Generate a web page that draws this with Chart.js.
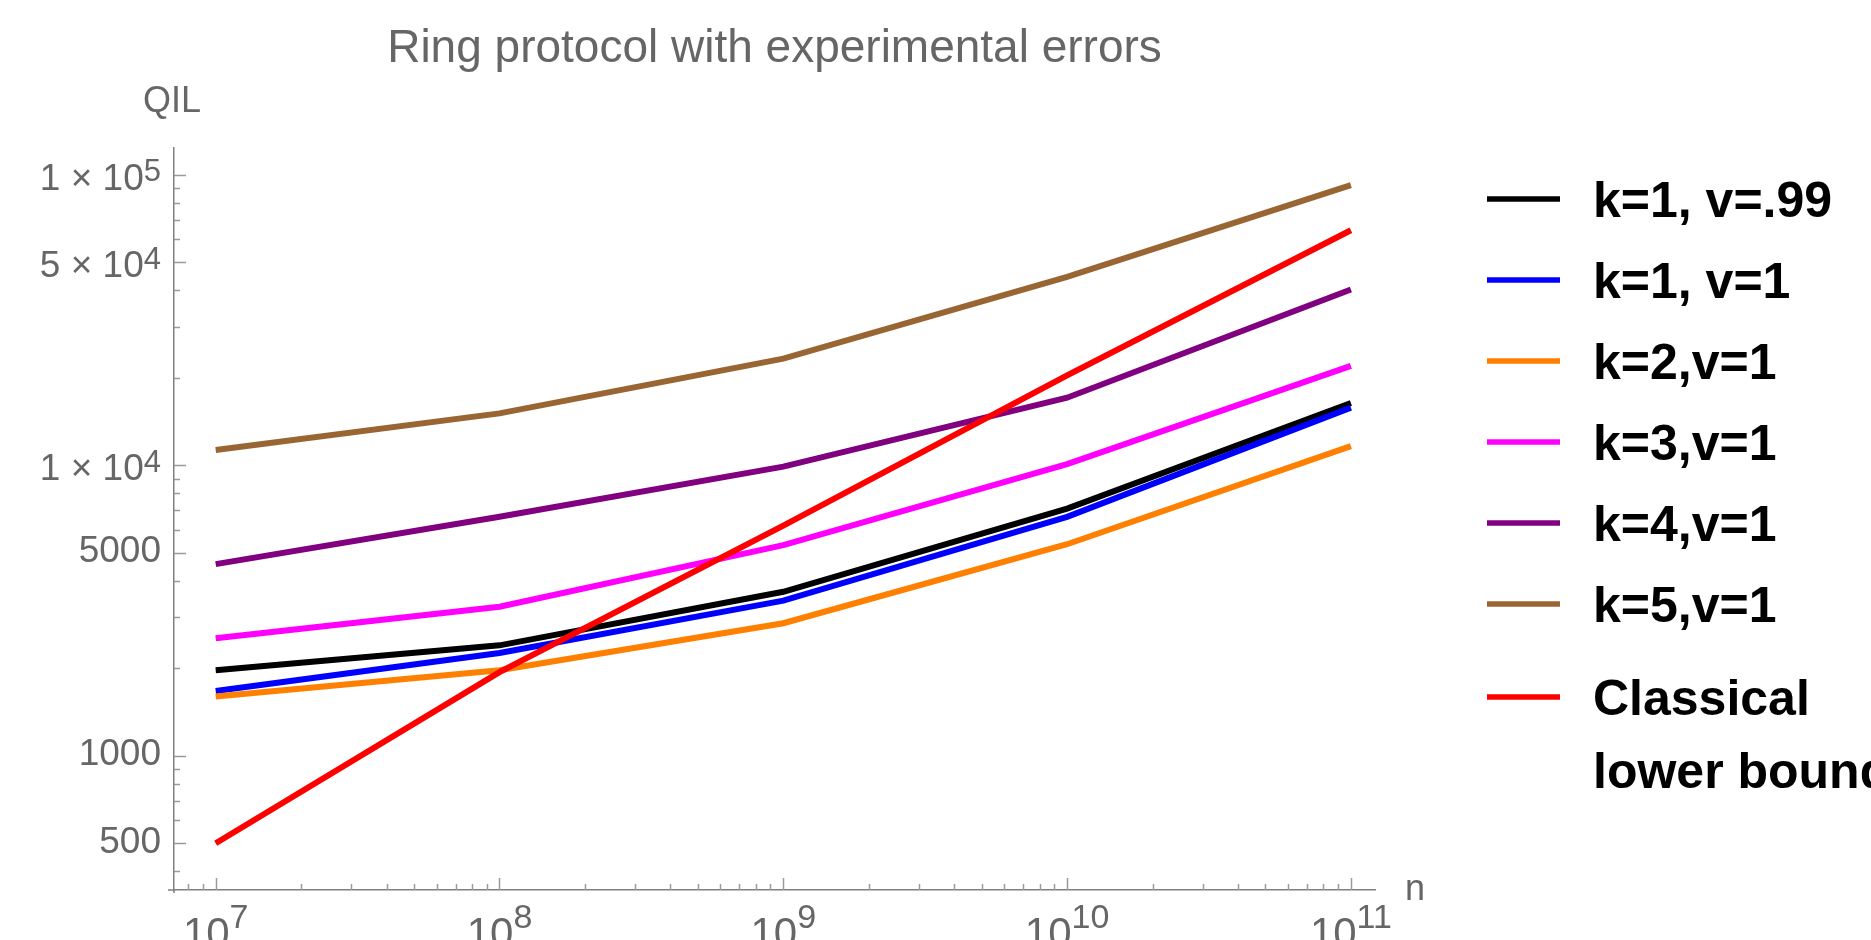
<!DOCTYPE html>
<html>
<head>
<meta charset="utf-8">
<title>Ring protocol with experimental errors</title>
<script src="https://cdn.jsdelivr.net/npm/chart.js@4.4.1/dist/chart.umd.min.js"></script>
<style>
  html, body { margin: 0; padding: 0; background: #fff; }
  #wrap { width: 1871px; height: 940px; }
</style>
</head>
<body>
<div id="wrap"><canvas id="qilChart" width="1871" height="940"></canvas></div>
<script>
// x values (n)
const nValues = [1e7, 1e8, 1e9, 1e10, 1e11];

// QIL for each curve
const k1v099 = [1970, 2400, 3670, 7100, 16400];
const k1v1 = [1670, 2260, 3420, 6650, 15800];
const k2v1 = [1600, 1970, 2860, 5350, 11650];
const k3v1 = [2540, 3260, 5310, 10100, 22000];
const k4v1 = [4570, 6650, 9900, 17100, 40300];
const k5v1 = [11300, 15100, 23300, 44600, 92200];
const classicalBound = [500, 1940, 6200, 20400, 64500];

const seriesNames = ['k=1, v=.99', 'k=1, v=1', 'k=2,v=1', 'k=3,v=1', 'k=4,v=1', 'k=5,v=1', 'Classical\nlower bound'];
const seriesColors = ['#000000', '#0000ff', '#ff8000', '#ff00ff', '#800080', '#996633', '#ff0000'];
const seriesValues = [k1v099, k1v1, k2v1, k3v1, k4v1, k5v1, classicalBound];

// labelled ticks ("^" marks the exponent)
const yMajorTicks = [500, 1000, 5000, 1e4, 5e4, 1e5];
const yTickLabels = ['500', '1000', '5000', '1 × 10^4', '5 × 10^4', '1 × 10^5'];
const xMajorTicks = [1e7, 1e8, 1e9, 1e10, 1e11];
const xTickLabels = ['10^7', '10^8', '10^9', '10^10', '10^11'];

const FONT = "'Liberation Sans', Arial, Helvetica, sans-serif";
const LABEL_GRAY = '#666666';
const AXIS_GRAY = '#808080';
const TICK_GRAY = '#9a9a9a';

function allLogTicks(lo, hi) {
    const out = [];
    for (let d = Math.floor(Math.log10(lo)); d <= Math.ceil(Math.log10(hi)); d++) {
        for (let m = 1; m < 10; m++) {
            const v = m * Math.pow(10, d);
            if (v >= lo && v <= hi) out.push(v);
        }
    }
    return out;
}

// draws "base^sup" text; align is 'right' or 'center'
function drawPowLabel(ctx, text, x, baseY, align, baseSize, supSize, supRise) {
    const parts = text.split('^');
    ctx.font = baseSize + 'px ' + FONT;
    const wBase = ctx.measureText(parts[0]).width;
    let wSup = 0;
    if (parts[1]) {
        ctx.font = supSize + 'px ' + FONT;
        wSup = ctx.measureText(parts[1]).width;
    }
    const total = wBase + wSup;
    const left = align === 'right' ? x - total : x - total / 2;
    ctx.font = baseSize + 'px ' + FONT;
    ctx.fillText(parts[0], left, baseY);
    if (parts[1]) {
        ctx.font = supSize + 'px ' + FONT;
        ctx.fillText(parts[1], left + wBase, baseY - supRise);
    }
}

// Mathematica style frame: inward ticks, exponent labels, axis names, legend
const frameDecor = {
    id: 'frameDecor',
    afterDraw(chart) {
        const ctx = chart.ctx;
        const area = chart.chartArea;
        const xs = chart.scales.x;
        const ys = chart.scales.y;
        ctx.save();

        // small overhang where the two axes meet
        ctx.strokeStyle = AXIS_GRAY;
        ctx.lineWidth = 1.5;
        ctx.beginPath();
        ctx.moveTo(area.left - 6, area.bottom);
        ctx.lineTo(area.left, area.bottom);
        ctx.moveTo(area.left, area.bottom);
        ctx.lineTo(area.left, area.bottom + 3);
        ctx.stroke();

        // tick marks
        ctx.strokeStyle = TICK_GRAY;
        allLogTicks(ys.min, ys.max).forEach(v => {
            const y = Math.round(ys.getPixelForValue(v)) + 0.5;
            const len = yMajorTicks.includes(v) ? 12 : 6;
            ctx.beginPath();
            ctx.moveTo(area.left, y);
            ctx.lineTo(area.left + len, y);
            ctx.stroke();
        });
        allLogTicks(xs.min, xs.max).forEach(v => {
            const x = Math.round(xs.getPixelForValue(v)) + 0.5;
            const len = xMajorTicks.includes(v) ? 12 : 6;
            ctx.beginPath();
            ctx.moveTo(x, area.bottom);
            ctx.lineTo(x, area.bottom - len);
            ctx.stroke();
        });

        // tick labels
        ctx.fillStyle = LABEL_GRAY;
        ctx.textAlign = 'left';
        ctx.textBaseline = 'alphabetic';
        yTickLabels.forEach((lab, i) => {
            const y = ys.getPixelForValue(yMajorTicks[i]);
            const hasSup = lab.includes('^');
            drawPowLabel(ctx, lab, area.left - 13, y + (hasSup ? 15 : 9.5), 'right', 37, 31, 8.5);
        });
        xTickLabels.forEach((lab, i) => {
            const x = xs.getPixelForValue(xMajorTicks[i]);
            drawPowLabel(ctx, lab, x, area.bottom + 57, 'center', 42, 34, 19);
        });

        // axis names
        ctx.font = '36px ' + FONT;
        ctx.fillText('QIL', 143, 112);
        ctx.fillText('n', 1405, 900);

        // legend
        const legendX = 1487, lineLen = 73, textX = 1593;
        let rowY = 199;
        chart.data.datasets.forEach((ds, i) => {
            const lines = ds.label.split('\n');
            if (i > 0) rowY += 81 + (lines.length > 1 ? 12 : 0);
            ctx.strokeStyle = ds.borderColor;
            ctx.lineWidth = 5.5;
            ctx.beginPath();
            ctx.moveTo(legendX, rowY);
            ctx.lineTo(legendX + lineLen, rowY);
            ctx.stroke();
            ctx.fillStyle = '#000000';
            ctx.font = 'bold 50px ' + FONT;
            lines.forEach((t, j) => ctx.fillText(t, textX, rowY + 18 + j * 73));
        });

        ctx.restore();
    }
};

const datasets = seriesValues.map((vals, i) => ({
    label: seriesNames[i],
    data: nValues.map((n, j) => ({ x: n, y: vals[j] })),
    borderColor: seriesColors[i],
    backgroundColor: seriesColors[i],
    borderWidth: 6,
    pointRadius: 0,
    tension: 0,
    fill: false,
    order: seriesValues.length - 1 - i
}));

const ctx = document.getElementById('qilChart').getContext('2d');
new Chart(ctx, {
    type: 'line',
    data: { datasets: datasets },
    options: {
        responsive: false,
        animation: false,
        devicePixelRatio: 1,
        layout: {
            padding: { left: 174, right: 496, top: 0, bottom: 50 }
        },
        plugins: {
            legend: { display: false },
            tooltip: { enabled: false },
            title: {
                display: true,
                text: 'Ring protocol with experimental errors',
                color: LABEL_GRAY,
                font: { family: FONT, size: 46, weight: 'normal', lineHeight: 1.2 },
                padding: { top: 22, bottom: 71 }
            }
        },
        scales: {
            x: {
                type: 'logarithmic',
                min: 7.13e6,
                max: 1.216e11,
                grid: { display: false, drawTicks: false },
                ticks: { display: false },
                border: { display: true, color: AXIS_GRAY, width: 1.5 }
            },
            y: {
                type: 'logarithmic',
                min: 345,
                max: 123600,
                grid: { display: false, drawTicks: false },
                ticks: { display: false },
                border: { display: true, color: AXIS_GRAY, width: 1.5 }
            }
        }
    },
    plugins: [frameDecor]
});
</script>
</body>
</html>
